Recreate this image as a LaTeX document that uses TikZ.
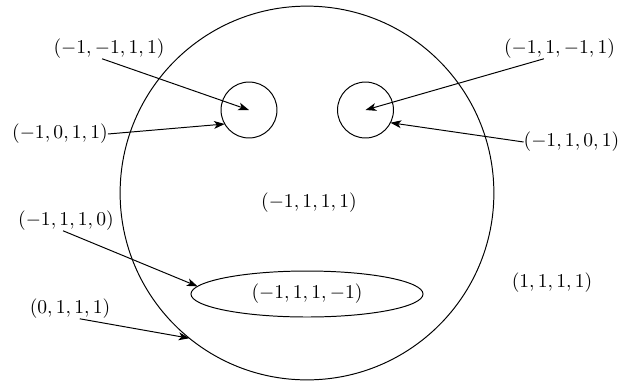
\documentclass[tikz,border=0pt]{standalone}
\usetikzlibrary{arrows.meta,shapes.geometric}
\begin{document}
\begin{tikzpicture}[x=0.511pt,y=-0.511pt,
  lbl/.style={inner sep=0pt,outer sep=0pt},
  ring/.style={draw,circle,inner sep=0pt,outer sep=0pt,line width=0.5pt},
  arr/.style={-{Stealth[length=5.5pt,width=4pt,inset=1.5pt]},line width=0.5pt}]
\useasboundingbox (0,0) rectangle (621,380);
\node[ring,minimum size=191pt] (C) at (307,193) {};
\node[ring,minimum size=28.6pt] (lc) at (249,110) {};
\node[ring,minimum size=28.6pt] (rc) at (365.5,110) {};
\node[draw,ellipse,inner sep=0pt,outer sep=0pt,line width=0.5pt,minimum width=118.6pt,minimum height=23.5pt] (E) at (307,294) {$(-1,1,1,-1)$};
\node[lbl] (mid) at (309,203) {$(-1,1,1,1)$};
\node[lbl] (out) at (552,282.5) {$(1,1,1,1)$};
\node[lbl] (a) at (109,49) {$(-1,-1,1,1)$};
\node[lbl] (b) at (60,134) {$(-1,0,1,1)$};
\node[lbl] (c) at (559.5,49) {$(-1,1,-1,1)$};
\node[lbl] (d) at (571.5,142) {$(-1,1,0,1)$};
\node[lbl] (e) at (66,221) {$(-1,1,1,0)$};
\node[lbl] (f) at (70,309) {$(0,1,1,1)$};
\draw[arr] ([xshift=-3.5pt]a.south) -- (lc.center);
\draw[arr] (b.east) -- (lc.210);
\draw[arr] ([xshift=-8pt]c.south) -- (rc.center);
\draw[arr] (d.west) -- (rc.-27);
\draw[arr] ([xshift=-1.5pt]e.south) -- (E.176);
\draw[arr] ([xshift=5pt]f.south) -- (C.231);
\end{tikzpicture}
\end{document}
